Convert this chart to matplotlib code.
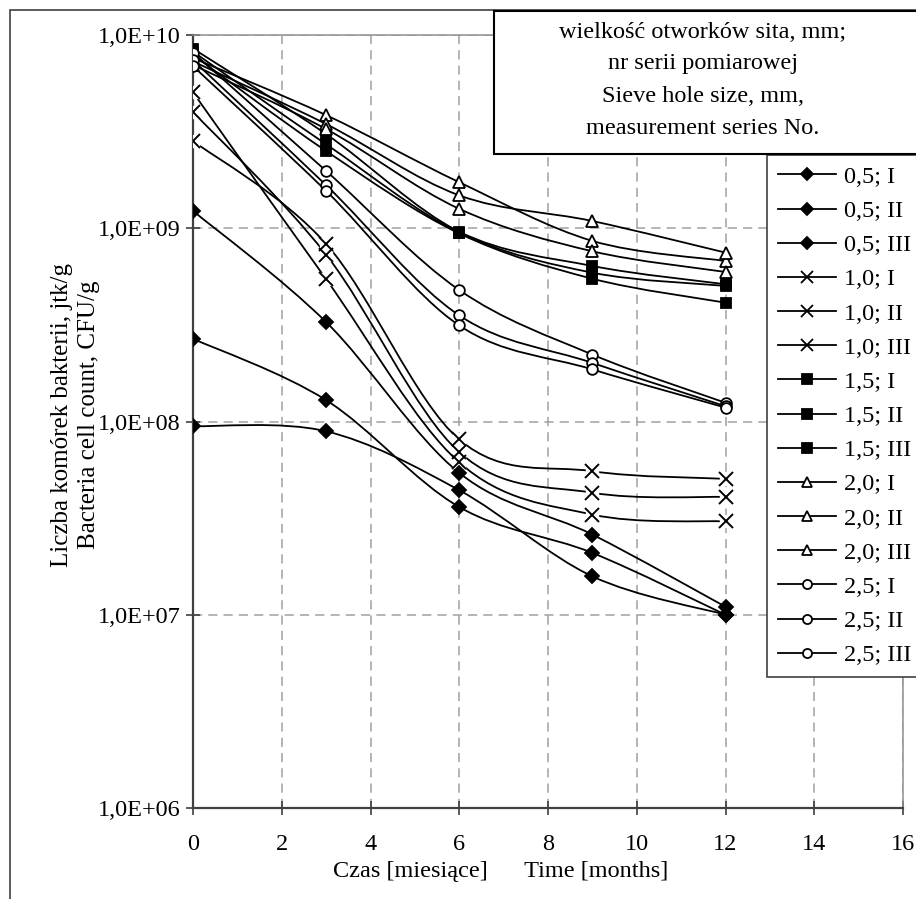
import numpy as np
import matplotlib
matplotlib.use('Agg')
from matplotlib import pyplot as plt
from matplotlib.path import Path
from matplotlib.patches import PathPatch, Rectangle
from matplotlib.lines import Line2D

plt.rcParams['font.family'] = ['Liberation Serif', 'DejaVu Serif']

# Dane
months = [0, 3, 6, 9, 12]

s05_I = [1.23e9, 3.27e8, 5.42e7, 2.6e7, 1.1e7]
s05_II = [2.68e8, 1.29e8, 3.61e7, 2.09e7, 1.0e7]
s05_III = [9.46e7, 8.9e7, 4.41e7, 1.58e7, 1.0e7]

s10_I = [5.05e9, 5.45e8, 6.14e7, 3.3e7, 3.04e7]
s10_II = [4.0e9, 7.3e8, 6.94e7, 4.28e7, 4.07e7]
s10_III = [2.83e9, 8.3e8, 8.07e7, 5.53e7, 5.05e7]

s15_I = [8.5e9, 3.07e9, 9.6e8, 6.38e8, 5.13e8]
s15_II = [8.2e9, 2.72e9, 9.5e8, 5.89e8, 5.03e8]
s15_III = [7.9e9, 2.51e9, 9.4e8, 5.48e8, 4.12e8]

s20_I = [7.6e9, 3.85e9, 1.73e9, 8.6e8, 6.77e8]
s20_II = [7.3e9, 3.46e9, 1.48e9, 1.09e9, 7.48e8]
s20_III = [7.0e9, 3.26e9, 1.26e9, 7.6e8, 5.94e8]

s25_I = [8.1e9, 1.98e9, 4.79e8, 2.22e8, 1.25e8]
s25_II = [7.4e9, 1.67e9, 3.54e8, 2.01e8, 1.2e8]
s25_III = [6.9e9, 1.56e9, 3.14e8, 1.86e8, 1.18e8]

labels = ['0,5; I', '0,5; II', '0,5; III',
          '1,0; I', '1,0; II', '1,0; III',
          '1,5; I', '1,5; II', '1,5; III',
          '2,0; I', '2,0; II', '2,0; III',
          '2,5; I', '2,5; II', '2,5; III']
series = [s05_I, s05_II, s05_III, s10_I, s10_II, s10_III,
          s15_I, s15_II, s15_III, s20_I, s20_II, s20_III,
          s25_I, s25_II, s25_III]

y_ticks = [1e6, 1e7, 1e8, 1e9, 1e10]
y_ticklabels = ['1,0E+06', '1,0E+07', '1,0E+08', '1,0E+09', '1,0E+10']
x_ticks = [0, 2, 4, 6, 8, 10, 12, 14, 16]

# styl markerow dla grup
styles = {
    '0,5': dict(marker='D', ms=7.6, mfc='black'),
    '1,0': dict(marker='x', ms=10.5, mfc='none'),
    '1,5': dict(marker='s', ms=7.9, mfc='black'),
    '2,0': dict(marker='^', ms=9.0, mfc='white'),
    '2,5': dict(marker='o', ms=7.7, mfc='white'),
}


def smooth_path(x, y):
    """Krzywa wygladzona (jak w Excelu) - Bezier w przestrzeni (x, log y)."""
    px = np.asarray(x, float)
    py = np.log10(y)
    n = len(px)
    verts = [(px[0], py[0])]
    codes = [Path.MOVETO]
    for i in range(n - 1):
        a = max(i - 1, 0)
        b = min(i + 2, n - 1)
        c1 = (px[i] + (px[i + 1] - px[a]) / 6, py[i] + (py[i + 1] - py[a]) / 6)
        c2 = (px[i + 1] - (px[b] - px[i]) / 6, py[i + 1] - (py[b] - py[i]) / 6)
        verts += [c1, c2, (px[i + 1], py[i + 1])]
        codes += [Path.CURVE4] * 3
    verts = np.array(verts)
    verts[:, 1] = 10 ** verts[:, 1]
    return Path(verts, codes)


W, H = 916, 899
fig = plt.figure(figsize=(W / 100, H / 100), dpi=100)
ax = fig.add_axes([193 / W, 1 - 808 / H, (903 - 193) / W, (808 - 35) / H])

handles = []
for lab, vals in zip(labels, series):
    st = styles[lab.split(';')[0]]
    ax.add_patch(PathPatch(smooth_path(months, vals), fc='none', ec='black',
                           lw=1.3, zorder=3))
    if st['marker'] == 'x':
        ax.plot(months, vals, ls='none', marker='s', ms=8.5, mfc='white',
                mec='white', zorder=4)
        ax.plot(months, vals, ls='none', marker='x', ms=st['ms'], mec='black',
                mew=1.4, zorder=5)
    else:
        ax.plot(months, vals, ls='none', marker=st['marker'], ms=st['ms'],
                mfc=st['mfc'], mec='black', mew=1.3, zorder=5)
    handles.append(Line2D([], [], color='black', lw=1.3, marker=st['marker'],
                          ms=st['ms'] * 0.85, mfc=st['mfc'], mec='black',
                          mew=1.3))

ax.set_yscale('log')
ax.set_ylim(1e6, 1e10)
ax.set_xlim(0, 16)
ax.set_yticks(y_ticks)
ax.set_yticklabels(y_ticklabels)
ax.yaxis.set_minor_locator(matplotlib.ticker.NullLocator())
ax.set_xticks(x_ticks)
ax.set_xticklabels([str(v) for v in x_ticks])
ax.tick_params(axis='both', direction='inout', length=10, width=1.2,
               color='#404040', labelsize=17.5)
ax.tick_params(axis='x', pad=14)
ax.tick_params(axis='y', pad=4)
ax.grid(True, color='#a0a0a0', ls=(0, (6, 4)), lw=1.1)
ax.set_axisbelow(True)
for s in ['left', 'bottom']:
    ax.spines[s].set_color('#404040')
    ax.spines[s].set_linewidth(1.6)
for s in ['top', 'right']:
    ax.spines[s].set_color('#909090')
    ax.spines[s].set_linewidth(1.1)

# ramka calego wykresu
fig.patches.append(Rectangle((10 / W, -0.05), 1.2, 1 - 10 / H + 0.05,
                             transform=fig.transFigure, fill=False,
                             ec='#404040', lw=1.2))

# opis osi
fig.text(501 / W, 1 - 872 / H, 'Czas [miesiące]      Time [months]',
         ha='center', va='center', fontsize=17.5)
fig.text(62 / W, 1 - 415 / H, 'Liczba komórek bakterii, jtk/g',
         rotation=90, ha='center', va='center', fontsize=18)
fig.text(89 / W, 1 - 415 / H, 'Bacteria cell count, CFU/g',
         rotation=90, ha='center', va='center', fontsize=18)

# tytul legendy w ramce
fig.patches.append(Rectangle((494 / W, 1 - 154 / H), 0.5, (154 - 11) / H,
                             transform=fig.transFigure, fc='white',
                             ec='black', lw=1.5, zorder=10))
title_lines = ['wielkość otworków sita, mm;', 'nr serii pomiarowej',
               'Sieve hole size, mm,', 'measurement series No.']
for i, t in enumerate(title_lines):
    fig.text(703 / W, 1 - (32 + 32 * i) / H, t, ha='center', va='center',
             fontsize=17.5, zorder=11)

leg = fig.legend(handles, labels, loc='upper left',
                 bbox_to_anchor=(767 / W, 1 - 155 / H), frameon=True,
                 fancybox=False, fontsize=17.5, handlelength=2.4,
                 handletextpad=0.3, labelspacing=0.5, borderpad=0.45,
                 borderaxespad=0, framealpha=1)
leg.get_frame().set_edgecolor('#404040')
leg.get_frame().set_linewidth(1.2)

fig.savefig('out.png', dpi=100)
